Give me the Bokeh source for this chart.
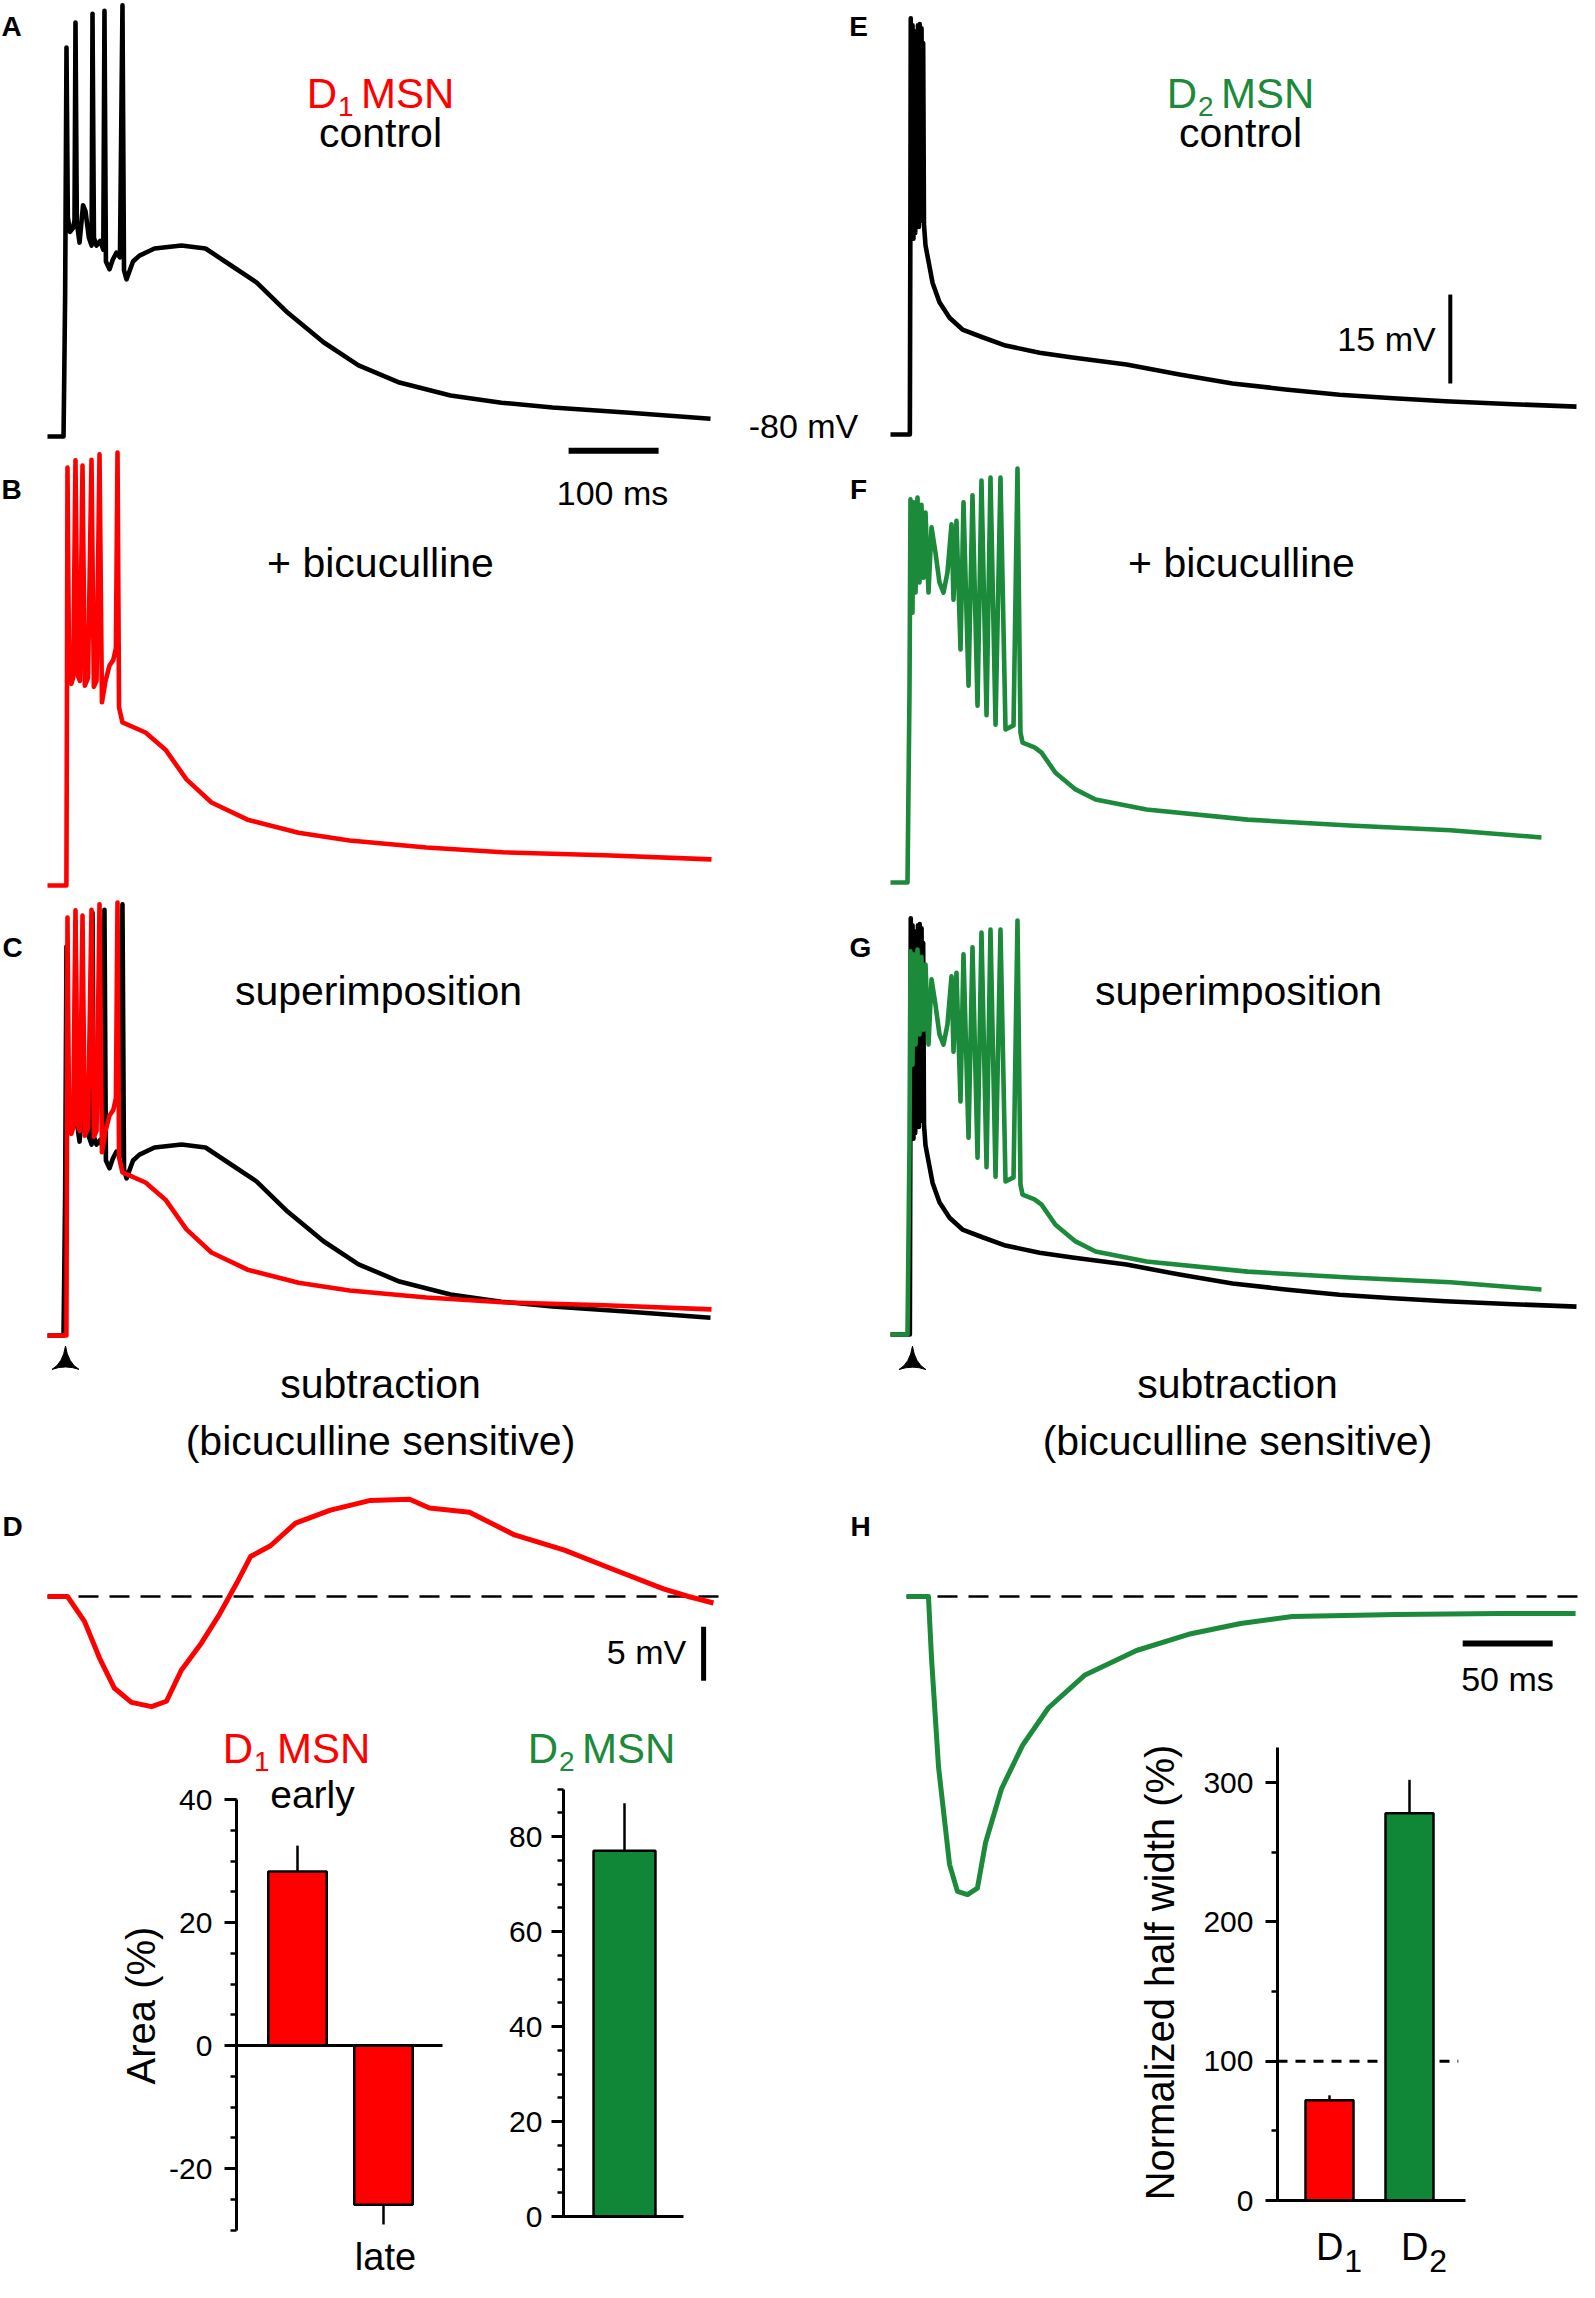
import math
from bokeh.plotting import figure
from bokeh.models import Range1d, LinearAxis, FixedTicker, Label
from bokeh.embed import file_html
from bokeh.resources import INLINE

# ------------------------------------------------------------------ data
# membrane potential traces: time (ms), potential (mV)
# A: D1 MSN, control
a_t = [0, 17.8, 18.6, 19.6, 21.1, 22.6, 25.0, 28.5, 30.0, 31.1, 32.6, 35.6, 39.5, 42.2, 46.0,
       49.0, 50.0, 51.6, 54.4, 58.5, 62.0, 63.3, 64.9, 68.9, 72.5, 76.5, 80.5, 83.3, 85.0, 87.8,
       95.0, 102.2, 118.9, 148.9, 175.6, 204.4, 232.2, 266.7, 306.7, 345.6, 391.1, 447.8, 504.4,
       561.1, 646.7, 736.7]
a_v = [-80, -80, -70, -56, -14.4, -43, -45.5, -44.8, -43.5, -10.2, -44, -47.3, -41.0, -42.0, -46.5,
       -47.8, -8.7, -46.5, -47.8, -47.0, -48.5, -8.2, -50.5, -51.8, -50.2, -49.0, -49.8, -7.3, -52.0, -53.5,
       -50.5, -49.5, -48.3, -47.8, -48.3, -51.2, -54.0, -59.1, -64.1, -68.0, -70.9, -73.1, -74.3,
       -75.1, -76.0, -77.0]
# B: D1 MSN + bicuculline
b_t = [0, 21.0, 21.6, 22.2, 24.0, 26.5, 28.5, 31.1, 33.5, 36.0, 38.9, 41.5, 45.0, 48.9, 51.5,
       54.5, 57.8, 60.5, 64.5, 68.9, 73.0, 76.0, 77.8, 79.5, 83.3, 108.9, 131.1, 154.4, 182.2, 222.2,
       278.9, 335.6, 421.1, 505.6, 618.9, 737.8]
b_v = [-80, -80, -50, -9.5, -44.5, -46.0, -45.0, -8.3, -44.5, -45.5, -9.2, -46.3, -45.0, -8.2, -46.5,
       -45.5, -7.3, -49.1, -45.5, -42.9, -42.0, -40.0, -7.0, -50.0, -52.5, -54.2, -57.1, -62.1, -66.0, -68.9,
       -71.1, -72.4, -73.6, -74.4, -74.9, -75.6]
# E: D2 MSN, control (high-frequency burst then decay)
e_t = [0, 21.5, 22.0, 22.5, 23.5, 24.5, 25.5, 26.5, 27.5, 28.5, 29.5, 30.5, 31.5, 32.5, 33.5,
       34.5, 35.5, 36.3, 37.2, 38.9, 46.7, 54.4, 65.6, 80.0, 102.2, 127.8, 165.6, 202.2, 262.2,
       321.1, 380.0, 438.9, 498.9, 558.9, 616.7, 692.2, 762.2]
e_v = [-80, -80, -50, -9.8, -46, -11, -47, -13.4, -46, -12, -45, -11, -45, -10.8, -44,
       -11.5, -44, -14, -44.6, -48.1, -54.4, -57.7, -60.3, -62.3, -63.6, -65.0, -66.2, -67.0, -68.2,
       -69.9, -71.4, -72.4, -73.3, -73.9, -74.4, -74.9, -75.3]
# F: D2 MSN + bicuculline
f_t = [0, 18.9, 21.1, 22.2, 24.4, 25.6, 27.8, 30.0, 32.2, 34.4, 36.7, 38.9, 42.2, 45.6, 50.0,
       54.4, 58.9, 63.3, 67.8, 70.0, 73.3, 77.8, 81.1, 86.7, 91.1, 96.7, 101.1, 106.7, 111.1, 116.7,
       122.2, 127.8, 136.7, 141.1, 144.4, 146.7, 160.0, 167.8, 183.3, 205.6, 227.8, 284.4, 396.7,
       510.0, 622.2, 723.3]
f_v = [-80, -80, -48.0, -15.4, -34.5, -15.9, -31.1, -15.1, -29.4, -16.3, -28.6, -17.6, -31.1, -20.1, -24.4,
       -29.4, -31.1, -27.7, -19.6, -32.3, -19.0, -40.7, -15.9, -46.8, -14.7, -50.2, -12.2, -51.8, -11.7, -53.4,
       -11.7, -54.2, -53.5, -10.2, -54.7, -56.4, -57.2, -58.1, -61.5, -64.3, -66.0, -67.7, -69.4,
       -70.4, -71.2, -72.4]
# D: subtraction, D1 MSN (bicuculline sensitive), mV relative to baseline
d_t = [0, 22.2, 41.1, 57.8, 74.4, 93.3, 115.6, 132.2, 148.9, 171.1, 190.0, 210.0, 225.6, 247.8,
       275.6, 314.4, 358.9, 402.2, 424.4, 468.9, 518.9, 574.4, 628.9, 684.4, 712.2, 740.0]
d_v = [0, 0, -2.3, -5.7, -8.5, -9.8, -10.2, -9.7, -6.8, -4.3, -1.8, 1.2, 3.7, 4.7,
       6.8, 8.0, 8.9, 9.0, 8.2, 7.8, 5.7, 4.3, 2.5, 0.7, 0.0, -0.6]
# H: subtraction, D2 MSN
h_t = [0, 12.2, 13.9, 17.8, 23.9, 28.3, 33.9, 39.4, 43.9, 52.8, 64.4, 78.9, 98.9, 127.8,
       156.7, 185.6, 214.4, 272.2, 330.0, 371.7]
h_v = [0, 0, -5.7, -15.8, -24.8, -27.3, -27.6, -27.0, -22.8, -17.8, -13.8, -10.3, -7.3, -5.0,
       -3.5, -2.5, -1.85, -1.67, -1.57, -1.57]
# stimulus onset markers (ms) for panels C and G
stim_c = [20.0]
stim_g = [24.4]

# bar charts
d1_cats = ["early", "late"]
d1_pos = [1, 2]
d1_area = [28.3, -25.9]          # Area (%)
d1_sem = [4.2, 3.2]
d2_pos = [1]
d2_area = [77.0]
d2_sem = [10.0]
hw_cats = ["D1", "D2"]
hw_pos = [1, 2]
hw_val = [72.0, 278.0]            # Normalized half width (%)
hw_sem = [3.5, 24.0]

d1_ticks = [-20, 0, 20, 40]
d2_ticks = [0, 20, 40, 60, 80]
hw_ticks = [0, 100, 200, 300]

# ------------------------------------------------------------------ styles
RED = "#FF0000"
GREEN = "#1B8A3A"
GREEN_BAR = "#0F8736"
FONT = "Liberation Sans"
LW = 4.6

W, H = 1579, 2282
PX0, PX1, PY0, PY1 = 8, 8 + W, 8, 8 + H   # page coordinates of the frame

p = figure(width=W, height=H, x_range=Range1d(PX0, PX1), y_range=Range1d(PY1, PY0),
           x_axis_type=None, y_axis_type=None, output_backend="svg",
           toolbar_location=None, min_border=0)
p.outline_line_color = None
p.background_fill_color = "white"
p.border_fill_color = "white"


def mkx(page_ref, val_ref, k):
    return Range1d(val_ref + (PX0 - page_ref) / k, val_ref + (PX1 - page_ref) / k)


def mky(page_ref, val_ref, k):
    return Range1d(val_ref - (PY1 - page_ref) / k, val_ref + (page_ref - PY0) / k)


T_K = 0.9      # px per ms
HT_K = 1.8
V_K = 5.93     # px per mV
DV_K = 10.8

p.extra_x_ranges = {
    "L": mkx(55, 0, T_K), "R": mkx(898, 0, T_K), "Ht": mkx(914, 0, HT_K),
    "b1x": mkx(305, 1, 86), "b2x": mkx(632, 1, 86), "b3x": mkx(1337, 1, 80),
}
p.extra_y_ranges = {
    "A": mky(444, -80, V_K), "B": mky(893, -80, V_K), "C": mky(1343, -80, V_K),
    "E": mky(442, -80, V_K), "F": mky(890, -80, V_K), "G": mky(1342, -80, V_K),
    "DH": mky(1604, 0, DV_K),
    "b1y": mky(2053, 0, 6.15), "b2y": mky(2224, 0, 4.75), "b3y": mky(2208, 0, 1.393),
}


def trace(t, v, xr, yr, color, lw=LW):
    p.line(t, v, x_range_name=xr, y_range_name=yr, line_color=color,
           line_width=lw, line_join="round")


# A, B, C
trace(a_t, a_v, "L", "A", "black")
trace(b_t, b_v, "L", "B", RED)
trace(a_t, a_v, "L", "C", "black")
trace(b_t, b_v, "L", "C", RED)
# E, F, G
trace(e_t, e_v, "R", "E", "black")
trace(f_t, f_v, "R", "F", GREEN)
trace(e_t, e_v, "R", "G", "black")
trace(f_t, f_v, "R", "G", GREEN)
# stimulus arrowheads
p.scatter(x=stim_c, y=[-84.4], x_range_name="L", y_range_name="C", marker="triangle_pin",
          size=27, fill_color="black", line_color="black", line_width=1)
p.scatter(x=stim_g, y=[-84.6], x_range_name="R", y_range_name="G", marker="triangle_pin",
          size=27, fill_color="black", line_color="black", line_width=1)
# D, H with dashed baselines
p.segment(x0=[0], y0=[0], x1=[746], y1=[0], x_range_name="L", y_range_name="DH",
          line_color="black", line_width=2.5, line_dash="20 11")
trace(d_t, d_v, "L", "DH", RED, 5)
p.segment(x0=[0], y0=[0], x1=[380], y1=[0], x_range_name="Ht", y_range_name="DH",
          line_color="black", line_width=2.5, line_dash="20 11")
trace(h_t, h_v, "Ht", "DH", GREEN, 5)

# scale bars
SB_T = 100   # ms
SB_V = 15    # mV
SB_DV = 5    # mV
SB_HT = 50   # ms
p.segment(x0=[579], y0=[-82.4], x1=[579 + SB_T], y1=[-82.4], x_range_name="L", y_range_name="A",
          line_color="black", line_width=6)
p.segment(x0=[622], y0=[-71.4], x1=[622], y1=[-71.4 + SB_V], x_range_name="R", y_range_name="E",
          line_color="black", line_width=4)
p.segment(x0=[729], y0=[-7.8], x1=[729], y1=[-7.8 + SB_DV], x_range_name="L", y_range_name="DH",
          line_color="black", line_width=5)
p.segment(x0=[309], y0=[-4.35], x1=[309 + SB_HT], y1=[-4.35], x_range_name="Ht", y_range_name="DH",
          line_color="black", line_width=6)


# ------------------------------------------------------------------ bar charts
def style_axis(ax, standoff=10):
    ax.axis_line_width = 3
    ax.axis_line_color = "black"
    ax.major_tick_line_width = 3
    ax.minor_tick_line_width = 2.5
    ax.major_tick_out = 12
    ax.major_tick_in = 0
    ax.minor_tick_out = 6
    ax.minor_tick_in = 0
    ax.major_label_text_font = FONT
    ax.major_label_text_font_size = "30px"
    ax.major_label_text_color = "black"
    ax.major_label_standoff = standoff


def base_axis(xr, yr, lo, hi):
    ax = LinearAxis(x_range_name=xr, y_range_name=yr, fixed_location=0, bounds=(lo, hi),
                    ticker=FixedTicker(ticks=[], minor_ticks=[]))
    ax.axis_line_width = 3
    ax.major_tick_out = 0
    ax.minor_tick_out = 0
    ax.major_label_text_font_size = "0px"
    p.add_layout(ax, "below")


# D1 MSN area
ax1 = LinearAxis(x_range_name="b1x", y_range_name="b1y", fixed_location=0.29, bounds=(-30, 40),
                 ticker=FixedTicker(ticks=d1_ticks, minor_ticks=list(range(-30, 41, 5))),
                 major_label_overrides={t: str(t) for t in d1_ticks})
style_axis(ax1, 12)
p.add_layout(ax1, "left")
p.vbar(x=d1_pos, top=d1_area, bottom=0, width=0.68, x_range_name="b1x", y_range_name="b1y",
       fill_color=RED, line_color="black", line_width=2.5)
p.segment(x0=d1_pos, y0=d1_area, x1=d1_pos,
          y1=[v + math.copysign(s, v) for v, s in zip(d1_area, d1_sem)],
          x_range_name="b1x", y_range_name="b1y", line_color="black", line_width=2.5)
base_axis("b1x", "b1y", 0.29, 2.69)

# D2 MSN area
ax2 = LinearAxis(x_range_name="b2x", y_range_name="b2y", fixed_location=0.29, bounds=(0, 90),
                 ticker=FixedTicker(ticks=d2_ticks, minor_ticks=list(range(0, 91, 5))))
style_axis(ax2, 9)
p.add_layout(ax2, "left")
p.vbar(x=d2_pos, top=d2_area, bottom=0, width=0.72, x_range_name="b2x", y_range_name="b2y",
       fill_color=GREEN_BAR, line_color="black", line_width=2.5)
p.segment(x0=d2_pos, y0=d2_area, x1=d2_pos, y1=[v + s for v, s in zip(d2_area, d2_sem)],
          x_range_name="b2x", y_range_name="b2y", line_color="black", line_width=2.5)
base_axis("b2x", "b2y", 0.29, 1.69)

# H: normalized half width
ax3 = LinearAxis(x_range_name="b3x", y_range_name="b3y", fixed_location=0.35, bounds=(0, 325),
                 ticker=FixedTicker(ticks=hw_ticks, minor_ticks=list(range(0, 301, 50))))
style_axis(ax3, 12)
p.add_layout(ax3, "left")
p.segment(x0=[0.35], y0=[100], x1=[2.61], y1=[100], x_range_name="b3x", y_range_name="b3y",
          line_color="black", line_width=3, line_dash="10 8")
p.vbar(x=hw_pos, top=hw_val, bottom=0, width=0.6, x_range_name="b3x", y_range_name="b3y",
       fill_color=[RED, GREEN_BAR], line_color="black", line_width=2.5)
p.segment(x0=hw_pos, y0=hw_val, x1=hw_pos, y1=[v + s for v, s in zip(hw_val, hw_sem)],
          x_range_name="b3x", y_range_name="b3y", line_color="black", line_width=2.5)
base_axis("b3x", "b3y", 0.35, 2.7)


# ------------------------------------------------------------------ texts
def txt(x, y, s, size, color="black", align="center", baseline="middle", bold=False,
        angle=0.0, font=FONT):
    p.add_layout(Label(x=x, y=y, text=s, text_font=font, text_font_size=f"{size}px",
                       text_color=color, text_align=align, text_baseline=baseline,
                       text_font_style="bold" if bold else "normal", angle=angle))


def dsub(cx, base_y, digit, rest, color, f=42, fs=28, drop=0.32):
    wd_main = 0.722 * f
    wd_sub = 0.556 * fs
    gap = 0.2 * f
    wr = 2.222 * f if rest else 0
    total = wd_main + wd_sub + (gap + wr if rest else 0)
    x = cx - total / 2
    txt(x, base_y, "D", f, color, "left", "alphabetic")
    txt(x + wd_main + 1, base_y + drop * f, digit, fs, color, "left", "alphabetic")
    if rest:
        txt(x + wd_main + wd_sub + gap, base_y, rest, f, color, "left", "alphabetic")


for letter, (lx, ly) in zip("ABCDEFGH", [(19, 34), (19, 497), (20, 955), (20, 1534),
                                         (866, 34), (866, 497), (868, 955), (868, 1534)]):
    txt(lx, ly, letter, 28, baseline="alphabetic", bold=True)

dsub(388, 101, "1", "MSN", RED)
txt(388, 140, "control", 41)
dsub(1248, 101, "2", "MSN", GREEN)
txt(1248, 140, "control", 41)
txt(388, 570, "+ bicuculline", 41)
txt(1249, 570, "+ bicuculline", 41)
txt(386, 998, "superimposition", 41)
txt(1246, 998, "superimposition", 41)
for cx in (388, 1245):
    txt(cx, 1391, "subtraction", 41)
    txt(cx, 1448, "(bicuculline sensitive)", 41)

txt(811, 433, "-80 mV", 34)
txt(620, 500, "100 ms", 34)
txt(1394, 346, "15 mV", 34)
txt(654, 1659, "5 mV", 34)
txt(1515, 1686, "50 ms", 34)

# bar chart texts
dsub(304, 1756, "1", "MSN", RED)
dsub(609, 1756, "2", "MSN", GREEN)
txt(320, 1802, "early", 39)
txt(393, 2264, "late", 38)
txt(148, 2013, "Area (%)", 40, angle=math.pi / 2)
txt(1167, 1980, "Normalized half width (%)", 40, angle=math.pi / 2)
dsub(1346, 2254, "1", "", "black", f=38, fs=32, drop=0.38)
dsub(1431, 2254, "2", "", "black", f=38, fs=32, drop=0.38)

open("out.html", "w").write(file_html(p, INLINE))
